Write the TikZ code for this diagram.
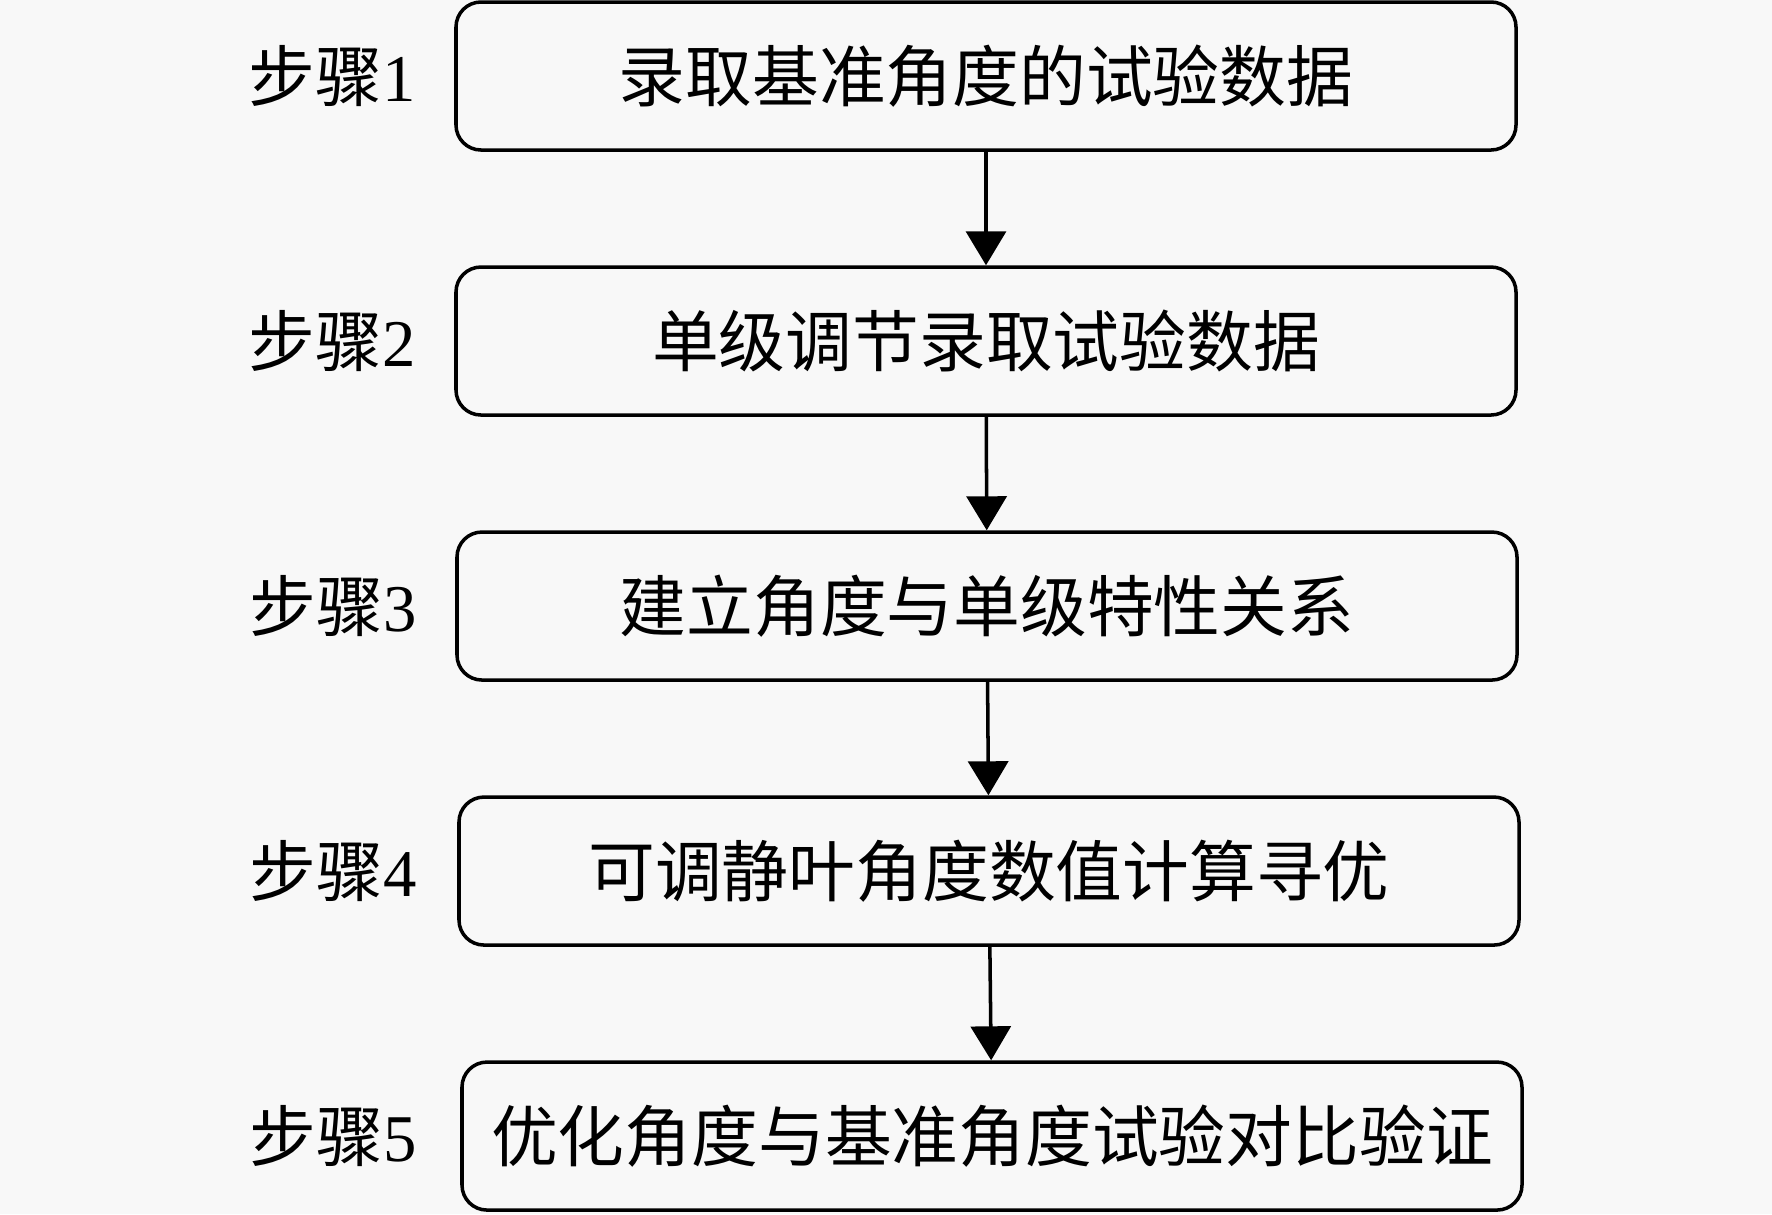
\documentclass[tikz,border=0pt]{standalone}
\usepackage{fontspec}
\setmainfont{Liberation Serif}
\newfontfamily\cjk{Noto Sans CJK SC}
\usetikzlibrary{positioning,arrows.meta}
\definecolor{paper}{RGB}{248,248,248}

\begin{document}
\begin{tikzpicture}[
                    stepbox/.style={draw, line width=1pt, rounded corners=0.25cm,
                                    minimum width=10.6cm, minimum height=1.48cm,
                                    inner sep=0pt, font=\fontsize{19pt}{19pt}\selectfont\cjk},
                    steplabel/.style={inner sep=0pt, font=\fontsize{19pt}{19pt}\selectfont},
                    flow/.style={line width=1pt, -{Triangle[width=0.4cm,length=0.34cm]}},
                    node distance=1.135cm
                ]
                \fill[paper] (0,0) rectangle (17.72,-12.14);
                \useasboundingbox (0,0) rectangle (17.72,-12.14);

                \node (S1) [stepbox] at (9.86,-0.76)             {录取基准角度的试验数据};
                \node (S2) [stepbox, below=of S1]                {单级调节录取试验数据};
                \node (S3) [stepbox, below=of S2, xshift=0.01cm] {建立角度与单级特性关系};
                \node (S4) [stepbox, below=of S3, xshift=0.02cm] {可调静叶角度数值计算寻优};
                \node (S5) [stepbox, below=of S4, xshift=0.03cm] {优化角度与基准角度试验对比验证};

                \node (L1) [steplabel, left=0.38cm of S1] {{\cjk 步骤}1};
                \node (L2) [steplabel, left=0.38cm of S2] {{\cjk 步骤}2};
                \node (L3) [steplabel, left=0.38cm of S3] {{\cjk 步骤}3};
                \node (L4) [steplabel, left=0.40cm of S4] {{\cjk 步骤}4};
                \node (L5) [steplabel, left=0.43cm of S5] {{\cjk 步骤}5};

                \draw[flow] (S1) -- (S2);
                \draw[flow] (S2) -- (S3);
                \draw[flow] (S3) -- (S4);
                \draw[flow] (S4) -- (S5);
            \end{tikzpicture}
\end{document}
